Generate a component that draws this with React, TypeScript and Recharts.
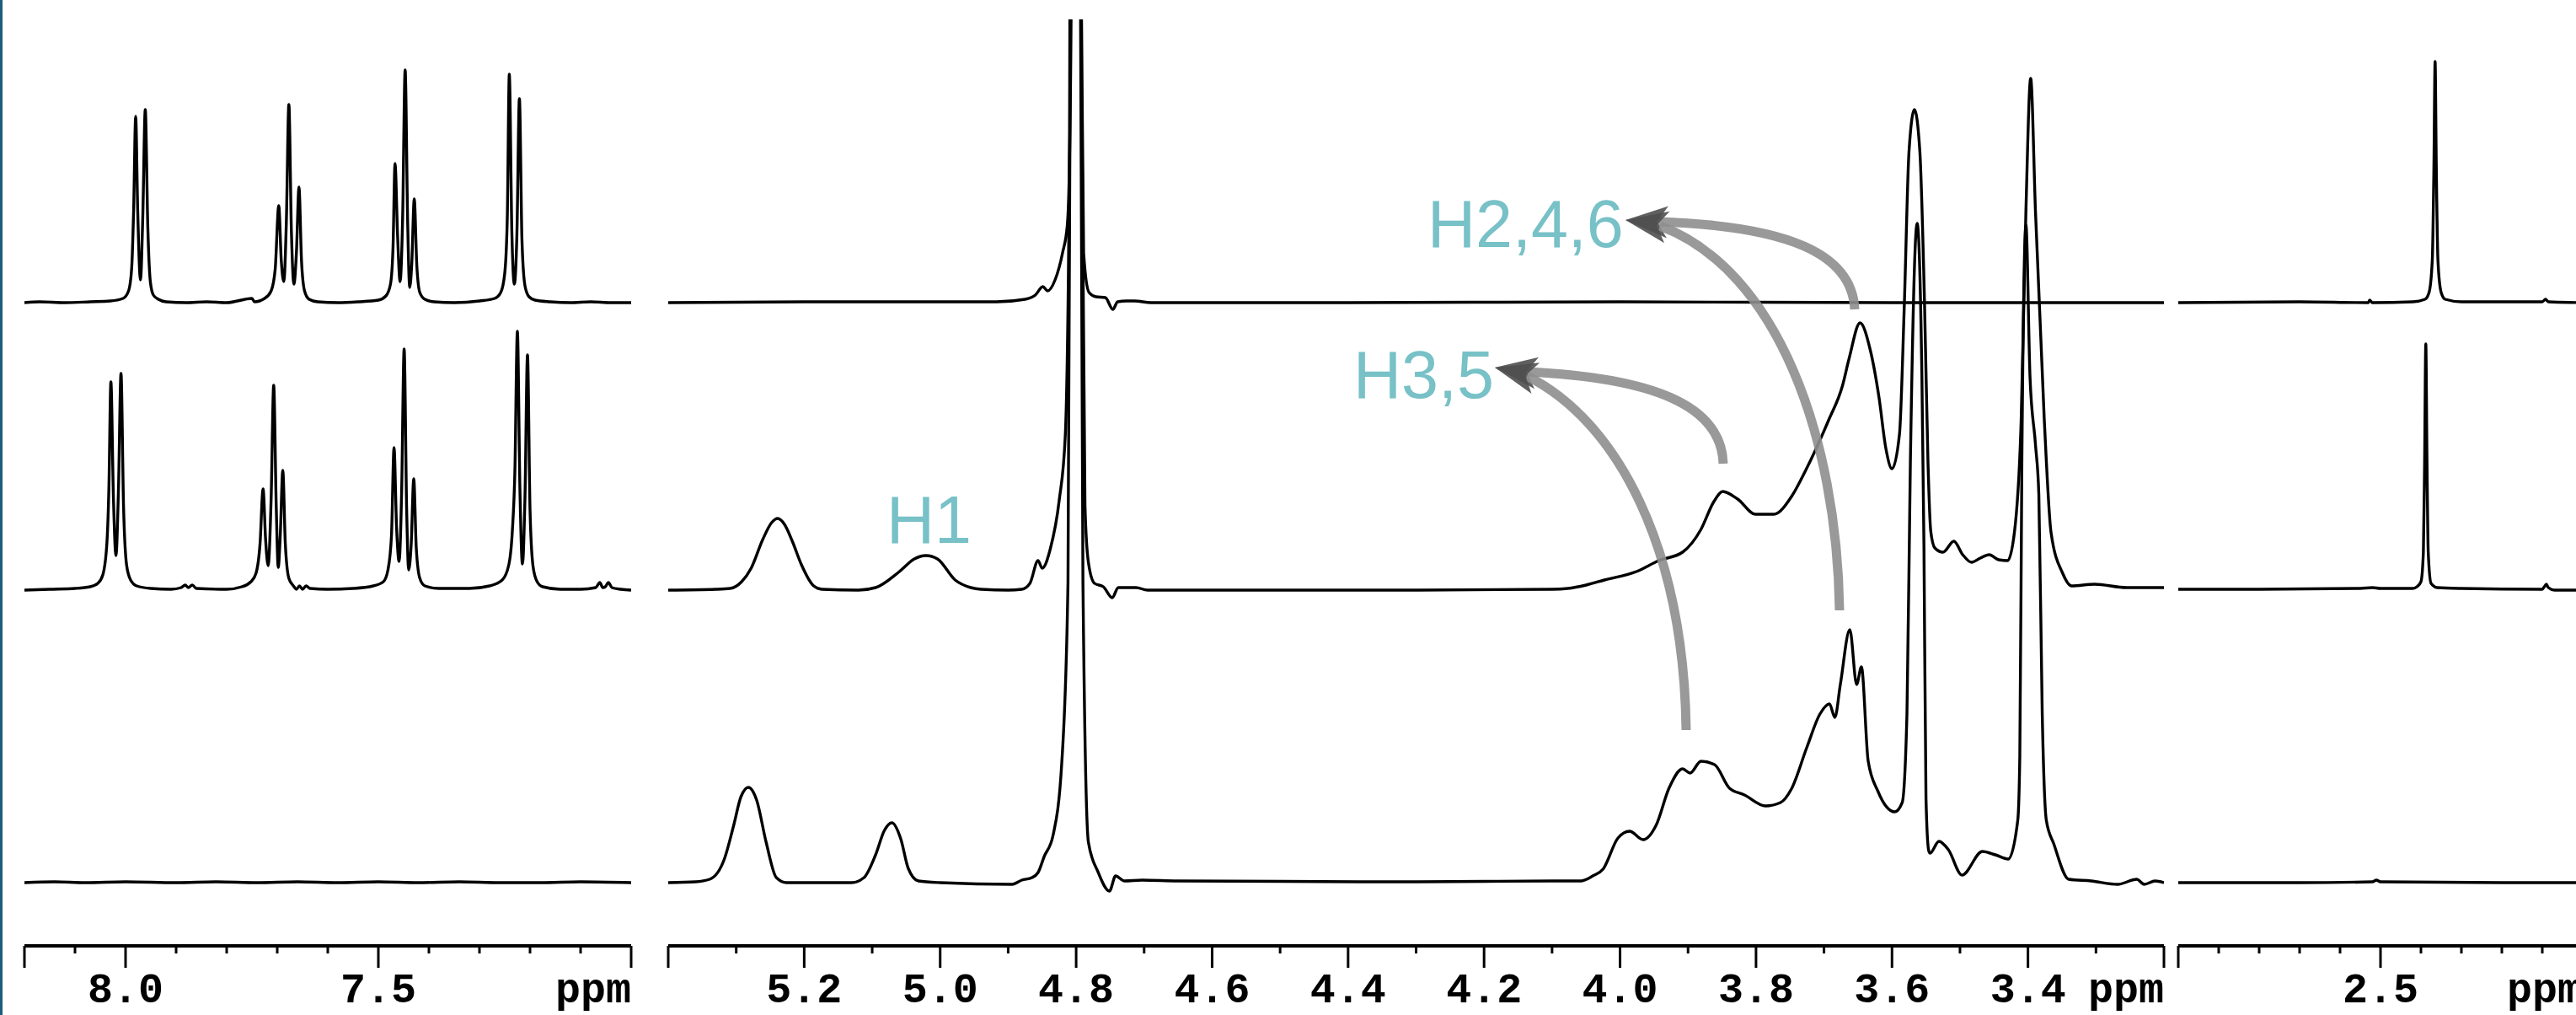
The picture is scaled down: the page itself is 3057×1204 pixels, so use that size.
import React from 'react';
import { Line, LineChart, XAxis, YAxis } from 'recharts';

type Pt = [number, number];

// [ppm, intensity above the trace's own baseline].
// Aromatic window, 8.2–7.0 ppm, traces from top to bottom.
const aromaticTop: Pt[] = [
  [8.2, 0], [8.17, 1], [8.12, 0], [8.07, 1], [8.03, 2], [8.005, 5], [7.994, 14], [7.988, 40],
  [7.984, 110], [7.98, 221], [7.976, 110], [7.9705, 27], [7.966, 100], [7.961, 229], [7.956, 90],
  [7.951, 25], [7.945, 9], [7.935, 4], [7.92, 1], [7.88, 0], [7.84, 1], [7.8, 0], [7.75, 5],
  [7.745, 1], [7.725, 5], [7.712, 14], [7.704, 40], [7.697, 115], [7.692, 50], [7.687, 25],
  [7.682, 95], [7.677, 235], [7.672, 85], [7.667, 22], [7.662, 60], [7.657, 137], [7.652, 50],
  [7.646, 14], [7.637, 4], [7.62, 1], [7.58, 0], [7.54, 1], [7.5, 3], [7.485, 8], [7.476, 22],
  [7.471, 65], [7.467, 165], [7.462, 80], [7.457, 25], [7.452, 100], [7.447, 276], [7.442, 95],
  [7.438, 18], [7.434, 45], [7.429, 123], [7.424, 45], [7.418, 12], [7.408, 4], [7.39, 1],
  [7.35, 0], [7.3, 2], [7.27, 5], [7.258, 12], [7.25, 35], [7.245, 100], [7.241, 271],
  [7.236, 85], [7.231, 22], [7.226, 80], [7.221, 242], [7.216, 75], [7.21, 20], [7.202, 7],
  [7.19, 3], [7.16, 1], [7.12, 0], [7.08, 1], [7.04, 0], [7.0, 0],
];

const aromaticMid: Pt[] = [
  [8.2, 0], [8.15, 1], [8.1, 2], [8.07, 4], [8.055, 8], [8.045, 18], [8.037, 55], [8.033, 120],
  [8.029, 247], [8.024, 110], [8.019, 41], [8.014, 120], [8.009, 257], [8.004, 100], [7.998, 30],
  [7.99, 12], [7.978, 5], [7.95, 2], [7.91, 1], [7.89, 3], [7.882, 6], [7.876, 3], [7.868, 6],
  [7.86, 2], [7.8, 1], [7.77, 4], [7.752, 10], [7.742, 20], [7.734, 55], [7.728, 120],
  [7.723, 60], [7.718, 29], [7.712, 110], [7.707, 243], [7.702, 100], [7.698, 27], [7.694, 65],
  [7.689, 142], [7.684, 55], [7.677, 14], [7.668, 5], [7.662, 1], [7.656, 5], [7.65, 1],
  [7.643, 5], [7.635, 2], [7.6, 1], [7.55, 2], [7.51, 5], [7.49, 10], [7.481, 24], [7.474, 65],
  [7.469, 169], [7.464, 75], [7.459, 34], [7.454, 115], [7.449, 286], [7.444, 95], [7.44, 24],
  [7.435, 55], [7.43, 132], [7.425, 50], [7.418, 14], [7.408, 5], [7.38, 2], [7.32, 2],
  [7.28, 5], [7.255, 12], [7.242, 30], [7.235, 70], [7.23, 140], [7.225, 307], [7.22, 120],
  [7.215, 31], [7.21, 110], [7.205, 279], [7.2, 95], [7.194, 28], [7.186, 10], [7.175, 4],
  [7.14, 1], [7.1, 1], [7.07, 3], [7.062, 9], [7.056, 3], [7.051, 4], [7.045, 9], [7.038, 3],
  [7.02, 1], [7.0, 0],
];

const aromaticBot: Pt[] = [
  [8.2, 0], [8.14, 1], [8.08, 0], [8.0, 1], [7.9, 0], [7.82, 1], [7.74, 0], [7.66, 1],
  [7.58, 0], [7.5, 1], [7.42, 0], [7.34, 1], [7.26, 0], [7.18, 0], [7.1, 1], [7.0, 0],
];

// Sugar window, 5.4–3.2 ppm (HDO at 4.80 runs off the top).
const sugarTop: Pt[] = [
  [5.4, 0], [5.2, 1], [5.0, 1], [4.917, 1], [4.875, 4], [4.86, 9], [4.849, 19], [4.842, 14],
  [4.831, 27], [4.82, 59], [4.813, 92], [4.81, 159], [4.807, 400], [4.803, 3000], [4.797, 3000],
  [4.793, 400], [4.789, 59], [4.781, 12], [4.771, 7], [4.757, 6], [4.746, -8], [4.739, 1],
  [4.726, 2], [4.714, 2], [4.69, 0], [4.4, 0], [4.0, 1], [3.6, 0], [3.2, 0],
];

const sugarMid: Pt[] = [
  [5.4, 0], [5.33, 1], [5.309, 2], [5.292, 10], [5.278, 26], [5.261, 60], [5.248, 80],
  [5.239, 85], [5.229, 78], [5.217, 57], [5.204, 30], [5.186, 5], [5.174, 1], [5.12, 0],
  [5.095, 3], [5.06, 22], [5.038, 37], [5.021, 41], [5.004, 37], [4.978, 12], [4.955, 3],
  [4.94, 1], [4.9, 0], [4.88, 1], [4.868, 8], [4.856, 35], [4.85, 26], [4.838, 49],
  [4.825, 106], [4.816, 183], [4.81, 500], [4.804, 3000], [4.796, 3000], [4.792, 600],
  [4.787, 100], [4.782, 33], [4.773, 8], [4.76, 4], [4.747, -9], [4.738, 3], [4.712, 3],
  [4.695, 0], [4.3, 0], [4.1, 1], [4.077, 2], [4.05, 6], [4.023, 12], [3.976, 22], [3.943, 35],
  [3.908, 45], [3.881, 72], [3.862, 105], [3.849, 117], [3.827, 108], [3.801, 90], [3.774, 90],
  [3.747, 112], [3.727, 142], [3.693, 202], [3.673, 242], [3.663, 275], [3.647, 317],
  [3.632, 285], [3.619, 228], [3.609, 168], [3.6, 144], [3.589, 185], [3.582, 335],
  [3.575, 520], [3.567, 570], [3.559, 520], [3.552, 335], [3.547, 150], [3.543, 70],
  [3.537, 50], [3.525, 45], [3.509, 58], [3.496, 42], [3.483, 33], [3.47, 38], [3.457, 42],
  [3.443, 36], [3.43, 35], [3.42, 68], [3.41, 202], [3.403, 450], [3.396, 607], [3.389, 450],
  [3.376, 202], [3.366, 68], [3.349, 20], [3.336, 5], [3.302, 7], [3.255, 3], [3.2, 3],
];

const sugarBot: Pt[] = [
  [5.4, 0], [5.36, 1], [5.339, 4], [5.317, 29], [5.304, 67], [5.293, 102], [5.282, 113],
  [5.27, 98], [5.256, 48], [5.241, 6], [5.226, 0], [5.13, 0], [5.112, 6], [5.095, 33],
  [5.082, 62], [5.071, 71], [5.058, 52], [5.047, 17], [5.032, 2], [5.0, 0], [4.894, -2],
  [4.88, 3], [4.865, 6], [4.856, 12], [4.847, 31], [4.834, 56], [4.821, 144], [4.812, 356],
  [4.806, 1500], [4.801, 3000], [4.796, 1500], [4.79, 356], [4.782, 48], [4.768, 13],
  [4.751, -10], [4.742, 8], [4.729, 2], [4.703, 3], [4.651, 2], [4.3, 1], [4.1, 2], [4.058, 2],
  [4.04, 8], [4.025, 16], [4.003, 53], [3.986, 61], [3.966, 51], [3.947, 68], [3.928, 112],
  [3.908, 135], [3.897, 130], [3.881, 144], [3.861, 140], [3.839, 112], [3.817, 104],
  [3.786, 91], [3.764, 95], [3.748, 111], [3.725, 161], [3.706, 200], [3.692, 212],
  [3.684, 196], [3.676, 235], [3.662, 300], [3.652, 235], [3.645, 256], [3.635, 144],
  [3.621, 109], [3.596, 84], [3.585, 95], [3.578, 200], [3.573, 497], [3.563, 782],
  [3.556, 600], [3.553, 400], [3.55, 100], [3.546, 38], [3.544, 35], [3.531, 49], [3.517, 39],
  [3.497, 9], [3.467, 37], [3.448, 33], [3.429, 28], [3.415, 74], [3.412, 150], [3.409, 497],
  [3.403, 780], [3.397, 600], [3.389, 520], [3.384, 460], [3.379, 200], [3.373, 74],
  [3.362, 46], [3.34, 4], [3.307, 2], [3.268, -2], [3.24, 4], [3.229, -2], [3.213, 2], [3.2, 0],
];

// Methyl window, 3.0–2.0 ppm.
const methylTop: Pt[] = [
  [3.0, 0], [2.7, 1], [2.53, 0], [2.527, 3], [2.52, 0], [2.42, 1], [2.39, 4], [2.38, 12],
  [2.372, 50], [2.368, 160], [2.365, 286], [2.362, 160], [2.358, 50], [2.35, 12], [2.34, 4],
  [2.3, 1], [2.2, 1], [2.1, 1], [2.092, 4], [2.085, 1], [2.0, 0],
];

const methylMid: Pt[] = [
  [3.0, 1], [2.8, 1], [2.55, 2], [2.52, 3], [2.5, 2], [2.42, 2], [2.41, 4], [2.4, 10],
  [2.394, 45], [2.391, 150], [2.388, 292], [2.385, 150], [2.382, 45], [2.375, 8], [2.36, 3],
  [2.3, 2], [2.1, 1], [2.095, 4], [2.09, 7], [2.085, 3], [2.07, 0], [2.0, 0],
];

const methylBot: Pt[] = [[3.0, 0], [2.7, 0], [2.52, 1], [2.51, 3], [2.5, 1], [2.2, 0], [2.0, 0]];

const aromaticTicks = [8.2, 8.1, 8.0, 7.9, 7.8, 7.7, 7.6, 7.5, 7.4, 7.3, 7.2, 7.1, 7.0];
const aromaticLabels = [8.0, 7.5];
const sugarTicks = [
  5.4, 5.3, 5.2, 5.1, 5.0, 4.9, 4.8, 4.7, 4.6, 4.5, 4.4, 4.3, 4.2, 4.1, 4.0, 3.9, 3.8, 3.7, 3.6,
  3.5, 3.4, 3.3, 3.2,
];
const sugarLabels = [5.2, 5.0, 4.8, 4.6, 4.4, 4.2, 4.0, 3.8, 3.6, 3.4];
const methylTicks = [3.0, 2.9, 2.8, 2.7, 2.6, 2.5, 2.4, 2.3, 2.2, 2.1, 2.0];
const methylLabels = [2.5];

// layout
const W = 3057;
const H = 1204;
const PLOT_TOP = 23;
const AXIS_Y = 1122;
const BASELINES = [359, 700, 1047];
const PAD = 20;
const TEAL = '#77c1c7';

const near = (a: number, b: number) => Math.abs(a - b) < 1e-6;

function AxisTick(props: any) {
  const { x, y, payload, labels, first, last } = props;
  const v = payload.value as number;
  const isLabel = labels.some((l: number) => near(l, v));
  const long = isLabel || near(v, first) || near(v, last);
  const font = { fontFamily: '"Liberation Mono", monospace', fontWeight: 700, fontSize: 50 };
  return (
    <g>
      <line x1={x} y1={y} x2={x} y2={y + (long ? 26 : 9)} stroke="#000" strokeWidth={3} />
      {isLabel && (
        <text x={x} y={y + 67} textAnchor="middle" fill="#000" style={font}>
          {v.toFixed(1)}
        </text>
      )}
      {near(v, last) && (
        <text x={x} y={y + 67} textAnchor="end" fill="#000" style={font}>
          ppm
        </text>
      )}
    </g>
  );
}

function Panel({ left, width, domain, ticks, labels, traces }: {
  left: number;
  width: number;
  domain: [number, number];
  ticks: number[];
  labels: number[];
  traces: Pt[][];
}) {
  return (
    <div style={{ position: 'absolute', left: left - PAD, top: 0 }}>
      <LineChart
        width={width + 2 * PAD}
        height={H}
        margin={{ top: PLOT_TOP, right: PAD, bottom: 0, left: PAD }}
      >
        <XAxis
          type="number"
          dataKey="ppm"
          domain={domain}
          reversed
          allowDataOverflow
          ticks={ticks}
          interval={0}
          height={H - AXIS_Y}
          tickSize={0}
          tickMargin={0}
          tickLine={false}
          axisLine={{ stroke: '#000', strokeWidth: 4 }}
          tick={<AxisTick labels={labels} first={ticks[0]} last={ticks[ticks.length - 1]} />}
        />
        {BASELINES.map((b, i) => (
          <YAxis
            key={i}
            yAxisId={i}
            hide
            type="number"
            domain={[b - AXIS_Y, b - PLOT_TOP]}
            allowDataOverflow
          />
        ))}
        {traces.map((t, i) => (
          <Line
            key={i}
            yAxisId={i}
            data={t.map(([ppm, v]) => ({ ppm, v }))}
            dataKey="v"
            type="monotone"
            stroke="#000"
            strokeWidth={3.4}
            dot={false}
            isAnimationActive={false}
          />
        ))}
      </LineChart>
    </div>
  );
}

function arrowHead(tip: Pt, from: Pt, len = 50, half = 19) {
  const dx = tip[0] - from[0];
  const dy = tip[1] - from[1];
  const d = Math.hypot(dx, dy);
  const ux = dx / d;
  const uy = dy / d;
  const bx = tip[0] - ux * len;
  const by = tip[1] - uy * len;
  const nx = tip[0] - ux * len * 0.75;
  const ny = tip[1] - uy * len * 0.75;
  return `${tip[0]},${tip[1]} ${bx - uy * half},${by + ux * half} ${nx},${ny} ${bx + uy * half},${by - ux * half}`;
}

function Annotations() {
  const label = { fontFamily: '"Liberation Sans", Arial, sans-serif', fontSize: 79, fill: TEAL };
  const arrows: { d: string; tip: Pt; from: Pt }[] = [
    { d: 'M2201,367 C2198,300 2120,268 1968,263', tip: [1929, 261], from: [1968, 263] },
    { d: 'M2183,724 C2180,520 2110,320 1970,268', tip: [1929, 261], from: [1970, 268] },
    { d: 'M2045,550 C2043,480 1960,448 1812,441', tip: [1774, 436], from: [1812, 441] },
    { d: 'M2001,866 C1998,650 1920,500 1812,446', tip: [1774, 436], from: [1812, 446] },
  ];
  return (
    <svg width={W} height={H} style={{ position: 'absolute', left: 0, top: 0, pointerEvents: 'none' }}>
      {arrows.map((a, i) => (
        <g key={i}>
          <path d={a.d} fill="none" stroke="#8e8e8e" strokeOpacity={0.9} strokeWidth={11} />
          <polygon points={arrowHead(a.tip, a.from)} fill="#4f4f4f" fillOpacity={0.9} />
        </g>
      ))}
      <text x={1694} y={293} style={label}>H2,4,6</text>
      <text x={1606} y={472} style={label}>H3,5</text>
      <text x={1052} y={644} style={label}>H1</text>
    </svg>
  );
}

export default function App() {
  return (
    <div
      style={{
        position: 'absolute',
        left: 0,
        top: 0,
        width: W,
        height: H,
        overflow: 'hidden',
        background: '#fff',
      }}
    >
      <div style={{ position: 'absolute', left: 0, top: 0, width: 3, height: H, background: '#1d5d7b' }} />
      <Panel
        left={29}
        width={720}
        domain={[7.0, 8.2]}
        ticks={aromaticTicks}
        labels={aromaticLabels}
        traces={[aromaticTop, aromaticMid, aromaticBot]}
      />
      <Panel
        left={793}
        width={1775}
        domain={[3.2, 5.4]}
        ticks={sugarTicks}
        labels={sugarLabels}
        traces={[sugarTop, sugarMid, sugarBot]}
      />
      <Panel
        left={2585}
        width={480}
        domain={[2.0, 3.0]}
        ticks={methylTicks}
        labels={methylLabels}
        traces={[methylTop, methylMid, methylBot]}
      />
      <Annotations />
    </div>
  );
}
